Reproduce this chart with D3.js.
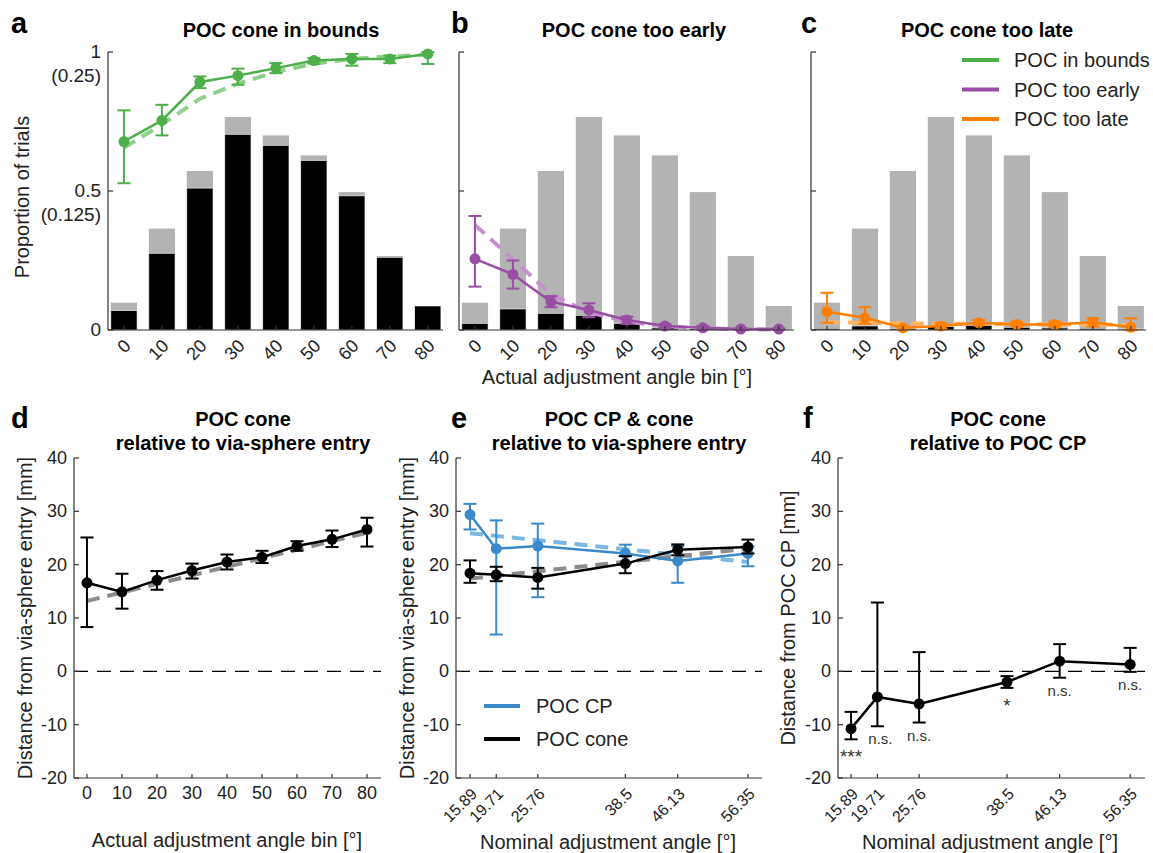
<!DOCTYPE html>
<html>
<head>
<meta charset="utf-8">
<script src="https://cdn.jsdelivr.net/npm/d3@7"></script>
<style>
  body { margin: 0; background: #fff; }
  text { font-family: "Liberation Sans", Arial, Helvetica, sans-serif; fill: #222; }
</style>
</head>
<body>
<svg id="fig" width="1153" height="853"></svg>
<script>
// ---- data: top row (a-c), actual adjustment angle bins ----
const bins = [0, 10, 20, 30, 40, 50, 60, 70, 80];
// share of all trials per bin (right-hand scale, 0..0.25)
const totalShare    = [0.0246, 0.0912, 0.143, 0.1915, 0.175, 0.157, 0.124, 0.0666, 0.0216];
const inBoundsShare = [0.0174, 0.069, 0.1276, 0.176, 0.166, 0.1525, 0.1206, 0.0654, 0.0216];
const earlyShare    = [0.006, 0.0189, 0.015, 0.0132, 0.006, 0.0018, 0.0012, 0.0006, 0.0002];
const lateShare     = [0.0015, 0.0036, 0.0012, 0.003, 0.0042, 0.0024, 0.0018, 0.0015, 0.0009];
// proportion of trials per bin (0..1), mean with error bounds and fit
const inBoundsMean = [0.678, 0.754, 0.892, 0.915, 0.942, 0.969, 0.975, 0.975, 0.993];
const inBoundsLo   = [0.528, 0.700, 0.870, 0.882, 0.924, 0.958, 0.951, 0.960, 0.957];
const inBoundsHi   = [0.790, 0.810, 0.912, 0.940, 0.960, 0.978, 0.993, 0.987, 1.0];
const inBoundsFit  = [0.655, 0.740, 0.832, 0.886, 0.928, 0.958, 0.975, 0.985, 0.99];
const earlyMean = [0.256, 0.200, 0.102, 0.072, 0.036, 0.0144, 0.008, 0.0036, 0.0036];
const earlyLo   = [0.156, 0.149, 0.082, 0.046, 0.022, 0.007, 0.002, 0.001, 0.001];
const earlyHi   = [0.410, 0.250, 0.122, 0.096, 0.048, 0.0216, 0.014, 0.006, 0.006];
const earlyFit  = [0.378, 0.255, 0.128, 0.064, 0.030, 0.013, 0.006, 0.003, 0.0015];
const lateMean = [0.066, 0.044, 0.008, 0.0144, 0.026, 0.020, 0.020, 0.0276, 0.0096];
const lateLo   = [0.026, 0.022, 0.002, 0.006, 0.017, 0.012, 0.012, 0.012, 0.0];
const lateHi   = [0.134, 0.082, 0.014, 0.024, 0.036, 0.030, 0.030, 0.042, 0.042];
const lateFit  = [0.028, 0.026, 0.024, 0.023, 0.022, 0.021, 0.020, 0.019, 0.018];
const shareTicks = [0, 0.5, 1];
const shareTickLabels = [["0"], ["0.5", "(0.125)"], ["1", "(0.25)"]];
const legendTop = ["POC in bounds", "POC too early", "POC too late"];

// ---- data: bottom row (d-f) ----
const coneMean = [16.6, 14.9, 17.1, 18.9, 20.5, 21.4, 23.5, 24.75, 26.6];
const coneLo   = [8.3, 11.75, 15.3, 17.4, 19.1, 20.3, 22.6, 23.3, 23.4];
const coneHi   = [25.1, 18.3, 18.8, 20.2, 21.9, 22.6, 24.4, 26.4, 28.8];
const coneFit  = [13.2, 26.0]; // at first and last bin

const nominal = [15.89, 19.71, 25.76, 38.5, 46.13, 56.35];
const cpMean = [29.4, 23.0, 23.5, 22.1, 20.7, 22.1];
const cpLo   = [26.6, 6.9, 13.9, 20.2, 16.6, 19.7];
const cpHi   = [31.4, 28.3, 27.7, 23.75, 23.5, 23.4];
const cpFit  = [25.9, 20.5];
const eConeMean = [18.4, 18.1, 17.6, 20.2, 22.8, 23.3];
const eConeLo   = [16.6, 16.9, 15.5, 18.4, 21.75, 22.1];
const eConeHi   = [20.8, 19.6, 19.4, 21.6, 23.8, 24.7];
const eConeFit  = [17.4, 23.0];
const relMean = [-10.75, -4.8, -6.1, -2.0, 1.9, 1.3];
const relLo   = [-12.75, -10.3, -9.6, -3.1, -1.2, -0.1];
const relHi   = [-7.6, 12.9, 3.6, -0.9, 5.1, 4.4];
const sigLabels = ["***", "n.s.", "n.s.", "*", "n.s.", "n.s."];
const distTicks = [-20, -10, 0, 10, 20, 30, 40];
const legendBottom = ["POC CP", "POC cone"];

// colours
const C = {
  green: "#4daf4a", greenFit: "#8fd08c",
  purple: "#984ea3", purpleFit: "#c690ce",
  orange: "#ff7f00", orangeFit: "#ffb466",
  blue: "#3a89c9", blueFit: "#7cb6e3",
  black: "#000", grayFit: "#8c8c8c",
  bar: "#b3b3b3", axis: "#333"
};
const FONT = 20, TICK_FONT = 18;

const svg = d3.select("#fig");

/** axis lines with inward ticks */
const frame = function (g, x, y, xTicks, yTicks) {
  const [x0, x1] = x.range();
  const [yb, yt] = y.range();
  g.append("line").attr("x1", x0).attr("x2", x0).attr("y1", yb).attr("y2", yt)
    .attr("stroke", C.axis).attr("stroke-width", 1.2);
  g.append("line").attr("x1", x0).attr("x2", x1).attr("y1", yb).attr("y2", yb)
    .attr("stroke", C.axis).attr("stroke-width", 1.2);
  g.selectAll(null).data(yTicks).enter().append("line")
    .attr("x1", x0).attr("x2", x0 + 5).attr("y1", d => y(d)).attr("y2", d => y(d))
    .attr("stroke", C.axis).attr("stroke-width", 1.2);
  g.selectAll(null).data(xTicks).enter().append("line")
    .attr("x1", d => x(d)).attr("x2", d => x(d)).attr("y1", yb).attr("y2", yb - 4)
    .attr("stroke", C.axis).attr("stroke-width", 1.2);
};

/** rotated x tick labels, MATLAB style */
const rotatedLabels = function (g, x, y, ticks, labels, size) {
  const yb = y.range()[0];
  g.selectAll(null).data(ticks).enter().append("text")
    .attr("transform", (d) => "translate(" + (x(d) + 8) + "," + (yb + 17) + ")rotate(-45)")
    .attr("text-anchor", "end")
    .style("font-size", size + "px")
    .text((d, i) => labels[i]);
};

/** dashed fit line */
const fitLine = function (g, x, y, xs, ys, color) {
  g.append("path")
    .attr("d", d3.line().x((d, i) => x(xs[i])).y(d => y(d))(ys))
    .attr("fill", "none").attr("stroke", color).attr("stroke-width", 4)
    .attr("stroke-dasharray", "13,8");
};

/** mean line with error bars and markers */
const series = function (g, x, y, xs, mean, lo, hi, color) {
  const cap = 6.5;
  const eb = g.append("g").attr("stroke", color).attr("stroke-width", 2);
  xs.forEach(function (v, i) {
    const cx = x(v);
    eb.append("line").attr("x1", cx).attr("x2", cx).attr("y1", y(lo[i])).attr("y2", y(hi[i]));
    eb.append("line").attr("x1", cx - cap).attr("x2", cx + cap).attr("y1", y(lo[i])).attr("y2", y(lo[i]));
    eb.append("line").attr("x1", cx - cap).attr("x2", cx + cap).attr("y1", y(hi[i])).attr("y2", y(hi[i]));
  });
  g.append("path")
    .attr("d", d3.line().x((d, i) => x(xs[i])).y(d => y(d))(mean))
    .attr("fill", "none").attr("stroke", color).attr("stroke-width", 2.5);
  g.selectAll(null).data(mean).enter().append("circle")
    .attr("cx", (d, i) => x(xs[i])).attr("cy", d => y(d)).attr("r", 5.5)
    .attr("fill", color);
};

const panelLetter = function (letter, px, py) {
  svg.append("text").attr("x", px).attr("y", py)
    .style("font-size", "29px").style("font-weight", "700").style("fill", "#000")
    .text(letter);
};

const title = function (lines, cx, py) {
  lines.forEach(function (l, i) {
    svg.append("text").attr("x", cx).attr("y", py + i * 24).attr("text-anchor", "middle")
      .style("font-size", FONT + "px").style("font-weight", "700").style("fill", "#000")
      .text(l);
  });
};

const yLabel = function (txt, px, cy) {
  svg.append("text").attr("transform", "translate(" + px + "," + cy + ")rotate(-90)")
    .attr("text-anchor", "middle").style("font-size", FONT + "px").text(txt);
};

const xLabel = function (txt, cx, py) {
  svg.append("text").attr("x", cx).attr("y", py).attr("text-anchor", "middle")
    .style("font-size", FONT + "px").text(txt);
};

// ================= top row =================
const topLefts = [108, 459, 811];
const topW = 335;
const topPanels = [
  { share: inBoundsShare, mean: inBoundsMean, lo: inBoundsLo, hi: inBoundsHi, fit: inBoundsFit, col: C.green, fitCol: C.greenFit },
  { share: earlyShare, mean: earlyMean, lo: earlyLo, hi: earlyHi, fit: earlyFit, col: C.purple, fitCol: C.purpleFit },
  { share: lateShare, mean: lateMean, lo: lateLo, hi: lateHi, fit: lateFit, col: C.orange, fitCol: C.orangeFit }
];

topPanels.forEach(function (p, k) {
  const left = topLefts[k];
  const x = d3.scaleLinear().domain([-4.2, 84]).range([left, left + topW]);
  const y = d3.scaleLinear().domain([0, 1]).range([330, 52]);
  const yShare = d3.scaleLinear().domain([0, 0.25]).range([330, 52]);
  const bw = (x(10) - x(0)) * 0.69;
  const g = svg.append("g");

  // total trials (grey) then the category share (black)
  g.selectAll(null).data(totalShare).enter().append("rect")
    .attr("x", (d, i) => x(bins[i]) - bw / 2).attr("width", bw)
    .attr("y", d => yShare(d)).attr("height", d => yShare(0) - yShare(d))
    .attr("fill", C.bar);
  g.selectAll(null).data(p.share).enter().append("rect")
    .attr("x", (d, i) => x(bins[i]) - bw / 2).attr("width", bw)
    .attr("y", d => yShare(d)).attr("height", d => yShare(0) - yShare(d))
    .attr("fill", "#000").attr("stroke", "#fff").attr("stroke-width", 0.6);

  fitLine(g, x, y, bins, p.fit, p.fitCol);
  series(g, x, y, bins, p.mean, p.lo, p.hi, p.col);
  frame(g, x, y, bins, shareTicks);
  rotatedLabels(g, x, y, bins, bins.map(String), TICK_FONT);

  if (k === 0) {
    shareTicks.forEach(function (t, i) {
      shareTickLabels[i].forEach(function (l, j) {
        g.append("text").attr("x", left - 7).attr("y", y(t) + 6 + j * 24)
          .attr("text-anchor", "end").style("font-size", "19px").text(l);
      });
    });
  }
});

panelLetter("a", 11, 33);
panelLetter("b", 451, 33);
panelLetter("c", 801, 33);
title(["POC cone in bounds"], 281, 37);
title(["POC cone too early"], 634, 37);
title(["POC cone too late"], 987, 37);
yLabel("Proportion of trials", 29, 197);
xLabel("Actual adjustment angle bin [\u00b0]", 617, 384);

// legend (panel c)
[C.green, C.purple, C.orange].forEach(function (col, i) {
  const ly = 60 + i * 29.5;
  svg.append("line").attr("x1", 962).attr("x2", 999).attr("y1", ly).attr("y2", ly)
    .attr("stroke", col).attr("stroke-width", 4);
  svg.append("text").attr("x", 1014).attr("y", ly + 7).style("font-size", FONT + "px")
    .text(legendTop[i]);
});

// ================= bottom row =================
const yDist = d3.scaleLinear().domain([-20, 40]).range([778, 458]);

const zeroLine = function (g, x) {
  const [x0, x1] = x.range();
  g.append("line").attr("x1", x0).attr("x2", x1).attr("y1", yDist(0)).attr("y2", yDist(0))
    .attr("stroke", "#000").attr("stroke-width", 1.2).attr("stroke-dasharray", "14,9");
};

const yTickLabels = function (g, x) {
  g.selectAll(null).data(distTicks).enter().append("text")
    .attr("x", x.range()[0] - 7).attr("y", d => yDist(d) + 6)
    .attr("text-anchor", "end").style("font-size", TICK_FONT + "px").text(d => d);
};

// d
const xD = d3.scaleLinear().domain([-3.7, 84]).range([74, 381]);
const gD = svg.append("g");
zeroLine(gD, xD);
fitLine(gD, xD, yDist, [bins[0], bins[bins.length - 1]], coneFit, C.grayFit);
series(gD, xD, yDist, bins, coneMean, coneLo, coneHi, C.black);
frame(gD, xD, yDist, bins, distTicks);
yTickLabels(gD, xD);
gD.selectAll(null).data(bins).enter().append("text")
  .attr("x", d => xD(d)).attr("y", 799).attr("text-anchor", "middle")
  .style("font-size", TICK_FONT + "px").text(d => d);

// e
const xE = d3.scaleLinear().domain([13.85, 58.4]).range([456, 762]);
const gE = svg.append("g");
zeroLine(gE, xE);
fitLine(gE, xE, yDist, [nominal[0], nominal[nominal.length - 1]], cpFit, C.blueFit);
fitLine(gE, xE, yDist, [nominal[0], nominal[nominal.length - 1]], eConeFit, C.grayFit);
series(gE, xE, yDist, nominal, cpMean, cpLo, cpHi, C.blue);
series(gE, xE, yDist, nominal, eConeMean, eConeLo, eConeHi, C.black);
frame(gE, xE, yDist, nominal, distTicks);
yTickLabels(gE, xE);
rotatedLabels(gE, xE, yDist, nominal, nominal.map(String), 16);
[C.blue, C.black].forEach(function (col, i) {
  const ly = 706 + i * 33;
  gE.append("line").attr("x1", 484).attr("x2", 520).attr("y1", ly).attr("y2", ly)
    .attr("stroke", col).attr("stroke-width", 4);
  gE.append("text").attr("x", 536).attr("y", ly + 7).style("font-size", FONT + "px")
    .text(legendBottom[i]);
});

// f
const xF = d3.scaleLinear().domain([14.0, 58.5]).range([838, 1145]);
const gF = svg.append("g");
zeroLine(gF, xF);
series(gF, xF, yDist, nominal, relMean, relLo, relHi, C.black);
frame(gF, xF, yDist, nominal, distTicks);
yTickLabels(gF, xF);
rotatedLabels(gF, xF, yDist, nominal, nominal.map(String), 16);
gF.selectAll(null).data(sigLabels).enter().append("text")
  .attr("x", (d, i) => xF(nominal[i]) + (i === 1 ? 3 : 0))
  .attr("y", (d, i) => yDist(relLo[i]) + (d.indexOf("*") >= 0 ? 24 : 18))
  .attr("text-anchor", "middle").style("fill", "#333")
  .style("font-size", d => (d.indexOf("*") >= 0 ? "19px" : "15px"))
  .text(d => d);

panelLetter("d", 11, 428);
panelLetter("e", 451, 428);
panelLetter("f", 803, 428);
title(["POC cone", "relative to via-sphere entry"], 243, 426);
title(["POC CP & cone", "relative to via-sphere entry"], 619, 426);
title(["POC cone", "relative to POC CP"], 998, 426);
yLabel("Distance from via-sphere entry [mm]", 32, 618);
yLabel("Distance from via-sphere entry [mm]", 414, 618);
yLabel("Distance from POC CP [mm]", 795, 618);
xLabel("Actual adjustment angle bin [\u00b0]", 227, 847);
xLabel("Nominal adjustment angle [\u00b0]", 608, 849);
xLabel("Nominal adjustment angle [\u00b0]", 990, 849);
</script>
</body>
</html>
